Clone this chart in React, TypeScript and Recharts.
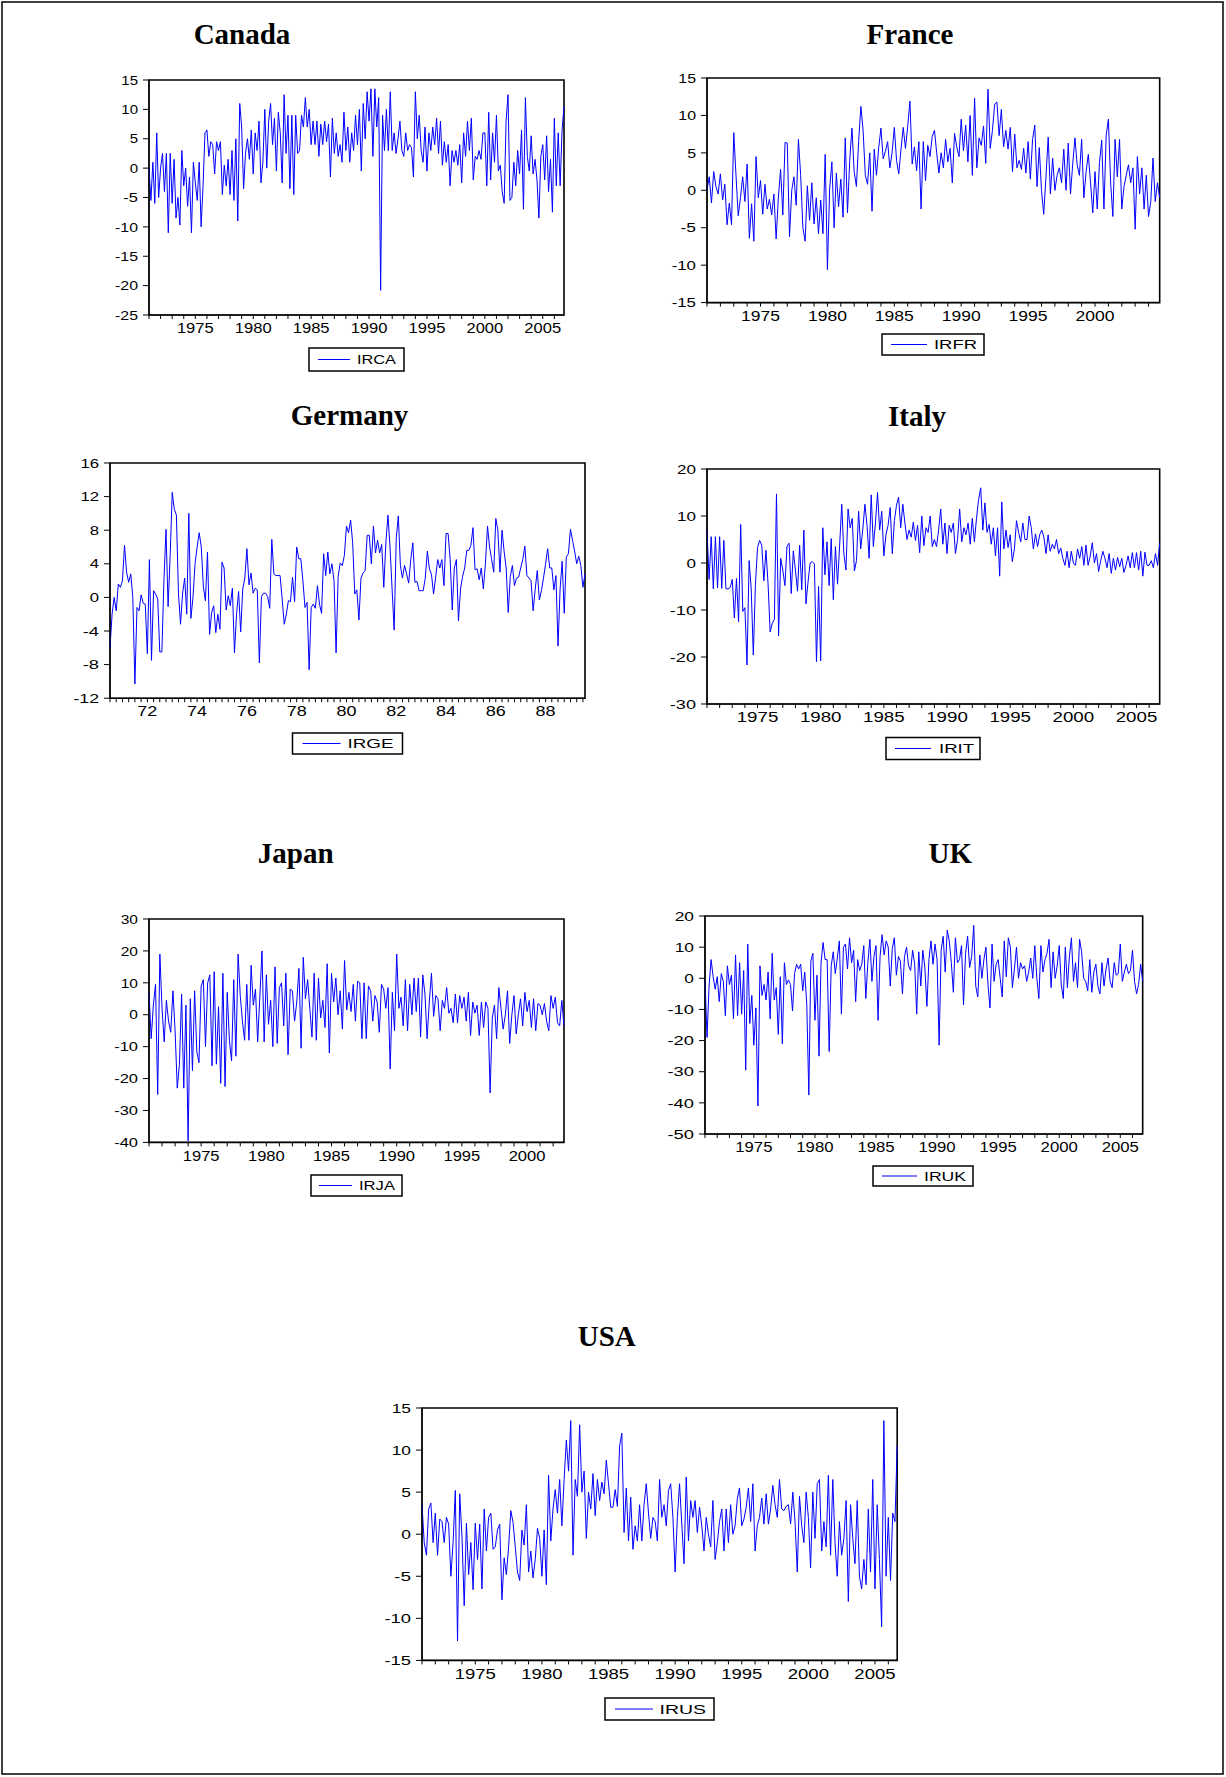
import { LineChart, Line, XAxis, YAxis, ReferenceArea } from "recharts";

// two-month observations unless noted
const STEP_2M = 1 / 6;
const STEP_1M = 1 / 12;

const IRCA = [
  0, -5.5, 1, -6, 6, -5,
  0, 2.5, -4, 2.5, -11, 2.5,
  -6, 1.5, -8.5, -5, -9.7, 3,
  -3, 0, -6.5, -1.5, -11, 1,
  -2.5, -5.5, 1, -10, -3, 6,
  6.5, 2, 4.5, 4, -1, 4.5,
  3, 4.5, -4.5, 0.5, -3, 1.5,
  -4.5, 3, -5.5, 5, -9, 11,
  7, -3.5, 2.5, 5, 1.5, 6.5,
  -1, 6, 3, 8, -2.5, 1,
  10, 0, 8, 11, 4, 8.5,
  -0.5, 9.5, 6, -2.5, 12.5, 2.5,
  9, -3.5, 9, -4.5, 9, 2.5,
  3, 9, 7, 12, 7, 10,
  4, 8, 4, 8, 2, 7.5,
  4, 8, 4.5, 7.5, -1.5, 8.5,
  2.5, 6, 2, 4, 1, 9.5,
  3, 7, 1, 6, 3, 9,
  4, 10, -0.5, 11, 5, 13,
  8, 13.5, 2, 13.5, 7, 12,
  -20.8, 9, 3, 10, 3, 13,
  3, 6, 2.5, 5, 8, 3,
  2, 6, 3, 4, 3.5, -1.5,
  13, 5, 9, 3, 1, 7,
  -0.5, 6, 3, 7, 4, 8.5,
  2.5, 8, 0.5, 4.5, 1, 4,
  -3, 3, 1, 3, 0.5, 4,
  -2.5, 6, 2, 8, 3, 8.5,
  -2, 2, 1.5, 3, 1.5, 6,
  6, -3, 9.5, -2, 6, 1,
  9, -0.5, 0.5, -4, -6, 8,
  12.5, -5.5, -5, 1, -3, 3,
  -1, 6.5, -7, 12, 2, -0.5,
  5.5, -1, 1.5, -2, -8.5, 2,
  4, -2, 5.5, -4, 1.5, -7.5,
  8.5, -3, 6, -3, 6.5, 10.5,
];

const IRFR = [
  0, 1.8, -1.7, 2.5, 0.5, -0.5,
  2.2, -1.3, 0.8, -4.6, -1.7, -4.6,
  7.7, 2, -3.4, -1, 1.8, -1.5,
  3.5, -6.4, -1.8, -6.8, 4.5, -1,
  1.3, -3.2, 0.8, -2.5, -1.2, -3.3,
  -0.5, -6.5, -1, 2.8, -3.3, 6.4,
  6.3, -6.2, 0, 1.8, -2, 6.8,
  2, -5, -6.8, 0.6, -4, 1,
  -4.5, -1, -5.8, -1.3, -5.8, 4.8,
  -10.6, 0.2, 3.8, -5, 2.3, -2.2,
  1.5, -3.6, 7, -3, 4, 8.3,
  2.5, 0.5, 6.5, 11.2, 8, 2,
  0.8, 5, -2.8, 5.5, 2, 5.7,
  8.3, 4.2, 5.2, 6.5, 3, 5,
  8.4, 4, 2.2, 5.5, 8.4, 5.6,
  8.5, 11.9, 3.5, 5.8, 2.6, 6.5,
  -2.5, 6.5, 1.3, 6, 4.5, 7.2,
  8, 5, 2.3, 5, 3, 6.8,
  3.8, 5.6, 1, 7.6, 5.8, 4.5,
  9.5, 5.3, 8.7, 3.8, 10, 2,
  12.3, 3, 7, 6, 8.6, 3.6,
  13.5, 5.6, 8, 11.5, 11.8, 7.3,
  10.8, 5.8, 8, 5.5, 8.4, 2.5,
  7.5, 3, 4, 2.8, 5.6, 2.3,
  6.5, 1.5, 6.8, 8.7, 0.5, 5.7,
  0, -3.2, 1.8, 7.1, -0.5, 4.3,
  0, 2, 3, 1, 5.5, 0,
  6.3, -0.5, 3.5, 7, 3.4, 2,
  6.8, -1, 2.5, 4.8, 1, -3,
  2.5, -2.5, 3.7, 6.7, -2.5, 7.3,
  9.5, 1, -3.5, 6.8, 1.8, 6.8,
  -2.5, 0.5, 2, 3.4, 1, 3,
  -5.2, 4.5, -0.5, 3, -2.5, 2,
  -3.5, -1.5, 4.3, -1.5, 1, -1,
];

// monthly
const IRGE = [
  -6, -2, 0, -1.6, 1.6, 1.2, 2, 6.2, 3, 1.8,
  2.8, 0, -10.3, -1.2, -1.6, 0.3, -0.7, -0.8, -6.7, 4.5,
  -7.5, 0.8, 0.4, -0.2, -6.5, -6.5, 2, 8.1, -1.1, 5,
  12.5, 10.5, 9.8, 0.5, -3.2, 0.5, 2.3, -2, 10, -2.5,
  0, 4, 6, 7.7, 6, 1.3, -0.4, 5.4, -4.4, -1.8,
  -1, -4.2, -2, -3.8, 4.2, 3.5, -1.5, 0.2, -1, 1.1,
  -6.6, -2, 0.7, -4.1, 1, 2.3, 5.8, 1.5, 2.9, 0.5,
  1.1, 0.9, -7.8, 0.1, 0.5, 0.5, 0.1, -1.3, 6.9, 2.8,
  2.6, 2.6, 2.6, -0.2, -3.2, -2, -0.4, -0.5, 2.4, -0.5,
  6, 4.6, 4.6, 2, -1.2, -0.6, -8.6, -1.2, -0.8, -1.3,
  1.4, -0.8, -1.9, 5.2, 2.6, 5.4, 2.8, 4, 2, -6.6,
  2.5, 4.1, 3.8, 5, 8.5, 7.7, 9.2, 6.5, 0.4, 0.9,
  -2.7, 2.3, 2.9, 3.2, 7.4, 7.4, 4, 8.5, 5.3, 6.8,
  5.3, 6.3, 1.2, 6.5, 9.8, 6, 1, -3.9, 7, 9.7,
  3.8, 2.3, 3.8, 2.8, 1.7, 4.5, 6.5, 1.8, 1.9, 0.8,
  0.8, 0.8, 2.3, 5.5, 3.4, 2.7, 0.4, 2.4, 4.5, 3.5,
  4.5, 1.4, 7.6, 7.6, 4.5, -1.5, 3.5, 4.5, -2.8, 1,
  2.5, 3.5, 5.6, 5.6, 6.2, 8.3, 3.3, 3.4, 2.1, 3.5,
  1, 4, 8.5, 6, 4.5, 3, 9.4, 8, 3, 8,
  5.5, 3.5, -1.8, 2.5, 3.8, 1.4, 2.3, 2.4, 3.5, 4.5,
  6.1, 2.6, 2.3, 2, -1.6, 1, 3.2, -0.3, 0.8, 2.3,
  4, 5.8, 3.5, 3.5, 0.9, 2.6, -5.8, 1, 4.3, -1.9,
  4.8, 5.2, 8.1, 6.8, 5.5, 4, 4.9, 3.8, 1.2, 2.8,
];

const IRIT = [
  7, -3.5, 5.6, -5.5, 5.6, -5.3,
  5.6, -5.4, 4.8, -5.5, -5.5, -5.2,
  -3.5, -11.7, -3.3, -12.5, 8.2, -10.3,
  -9.5, -21.7, 0.5, -5.5, -19.6, -4.5,
  3.3, 4.8, 3.8, -3.8, 2.7, -4.4,
  -14.7, -12.8, -12, 14.7, -15.5, 1,
  -1.5, -4.8, 3.6, 4.2, -6.5, 2.6,
  -1.5, -6, 3.8, -5.7, 7, -8.7,
  -4, 0, 0.3, -0.2, -21, -5,
  -20.8, 7.5, -2.5, 4.5, -4.8, 5.2,
  -7.8, 3.5, -4.5, 3.8, 12.5, 2,
  -1.5, 11.5, 7.5, 9.5, -1.7, 0.5,
  11, 3, 7.2, 12.5, 8, 1,
  14.5, 3.5, 8.5, 15, 7, 11,
  1.5, 6, 8, 11.8, 2, 9,
  12.3, 14, 7.5, 12.5, 8.5, 5,
  7, 5.5, 8.7, 4.8, 8, 2.2,
  10, 3.7, 7.5, 6.5, 10, 3.5,
  5, 3.5, 7, 11.5, 4, 8.5,
  2, 8, 6.5, 8.5, 2, 5,
  11.5, 4.5, 7.5, 6, 8.5, 4,
  9.5, 4.5, 9.5, 13.5, 16, 7,
  12.8, 6.5, 8.2, 4, 7.5, 1.5,
  7.5, -2.8, 13, 3, 7, 3.3,
  6, 0.3, 3, 9, 6.5, 4.5,
  8.5, 5, 5, 10, 7.5, 3,
  6.2, 3.5, 6, 7, 5.5, 2,
  6, 2.5, 4, 3, 5, 2,
  3.2, 1, -0.5, 2.5, -1, 2.5,
  0, -0.5, 3, 1, 3.5, -0.5,
  3.8, -0.5, 1.5, 4.3, 0, 2,
  -1.8, 0.5, 2.5, 1, -1, 2,
  -2.2, 1, -1.5, 1.2, -0.8, 1,
  -2, -0.5, 1.5, -1, 2.2, -1,
  2.2, -1.5, 2.5, -2.8, 2.3, -0.5,
  -0.5, 0.5, -1, 2, -0.5, 4.3,
];

const IRJA = [
  7, -7.5, 3, 9.5, -25, 19,
  2, -8.5, 4.5, -2, -5.5, 7.5,
  -5, -23, -15.5, 6.5, -23, 3,
  -39.5, 5, -17.5, 7.5, -11.5, -15,
  9, 11, -10, 10, 12.5, -16,
  13.5, -15.5, 2.5, -21.5, 13, -22.5,
  7, -8, -14.5, 11, -13, 19,
  6, -2, -8, 9.5, -8, 15.5,
  3, 8, -8.5, 5.5, 20, -8.5,
  12.5, -3, 4.5, -10, 15, -9,
  8.5, 10, -3.5, 13, -12.5, 8,
  7.5, -2, 4, 14.5, -10.5, 18,
  5, 11, 2, -7, 13, -8,
  11.5, -1, 4.5, -4, 16, -12,
  13, 4, 11.5, 0, 7.5, -4.5,
  17, 1.5, 7, 1, 9.5, -2,
  10.5, 10, -7.5, 10, -7.5, 9,
  7.5, -2, 6, 4, -5.5, 9.5,
  8, 2, 8.5, -17, 7, -5,
  19, 2, 5.5, -3.5, 11, -5,
  9.5, 0, 11.5, 1, 11.5, -7,
  12.5, 6.5, -7.5, 4, 13, -0.5,
  6, 5, -5, 4.5, 2, 8.5,
  0.5, 2, -2.5, 6.5, -2.5, 6,
  2, 5.5, -2, 7, -6.5, 4,
  0.5, 3, -6.5, 4, -4, 4,
  2, -24.5, -1, 3, -7.5, 8.5,
  2, -4.5, 0, 7.5, -9, 0,
  6, -6, 0, 5, -3.5, 7,
  1, 4.5, -4, 5, -5, 3.5,
  3, 0, 3.5, -2, -5, 6,
  2, 5.5, -2.5, -3.5, 4.5, -3.5,
];

const IRUK = [
  -0.5, -19, -2.5, 6, 0.5, -3.5,
  0.5, -7.5, 1.5, -1, -12, 4,
  -2, 1, -13, 7.5, -12, 5,
  -11.5, 2.5, -29.5, 11, -14.5, -5.5,
  -21.5, -9.5, -41, 4, -5.5, -2,
  -7, 2, -13, 8, -7, -3,
  -18, 0.5, -21, 5, -2, -0.5,
  -2, -10.5, 1.5, 4.5, 3, 4.5,
  -4, 2, -8.5, -37.5, 5.5, 8,
  -13.5, 1, -25, 5, 11.5, 6,
  6, -23.5, 4, 8.5, 1.5, 6.5,
  12, -11.5, 10, 11, 3, 13,
  5, 9, -7.5, 6, 2.5, 4.5,
  10.5, -6.5, 5, 12.5, -1, 7,
  10.5, -13.5, 7, 14, 7.5, 12,
  10, -2.5, 9.5, 13, 1, 7,
  5.5, -5, 7, 10, 4, 2.5,
  9, 4.5, -11.5, 8.5, -2.5, 9,
  3.5, -9, 6, 12, 4.5, 11,
  6, -21.5, 9, 13.5, 2, 15.5,
  12, 5, -4.5, 13, 5, 6,
  10.5, -8.5, 8, 13.5, 3.5, 7,
  17, -2.5, -6, 7.5, 0, 6,
  10, -2, -9.5, 11, -1, 4.5,
  6, 0, -6, 12, 0.5, 13,
  10, -3, 3, 10, 0, 5,
  3, 4, -1, 2, 6.5, 0,
  10.5, 0, -6.5, 10.5, 2, 6,
  8, 12.5, -3, 8.5, 0, 4,
  10.5, -2, -6.5, 10, -3, 7,
  13, -1, 5, -3, 12.5, 8.5,
  0, -1, -4, 6, -4.5, 2,
  4.5, -2.5, -5, 5, -2.5, 3,
  6.5, -1, -3, 5, 1, 1.5,
  11, -1, 2, 4.5, 1.5, 2.5,
  9, -1, -5, -2, 4.5, -1,
];

const IRUS = [
  3.5, -1, -2.5, 3, 3.7, -1,
  2.5, -2.5, 1.8, 1.5, -1, 2,
  1.2, -5, -1, 5.2, -12.7, 4.8,
  -0.3, -8.5, 1.3, -4.8, -1, -6.6,
  1.3, -3, 1.2, -6.5, 3, -2,
  2, 2.5, -1.8, -1.5, 0.5, 1.2,
  -7.8, -2.8, -4.8, -1.5, 2.8, 1.4,
  -1.5, -4.5, -5.5, 0.5, -1.3, 3.5,
  -4.5, -2, -5.2, -3, 0.7, -0.5,
  -5, 0.5, -6, 7, -0.8, 3,
  5.3, 2.5, 6.5, 1, 6.5, 11.2,
  7.5, 13.5, -2.5, 6.5, 4.5, 13,
  5, 7.5, -0.5, 5, 3, 7.2,
  2.2, 6.5, 4, 6.2, 4.8, 8.8,
  6, 3.2, 3.2, 5.3, 3.3, 10.5,
  12, 0.2, 5.5, -0.8, 4.4, -1.8,
  1, -0.8, 3.5, -0.8, 3.5, 6,
  2.5, -0.5, 2, 1.5, -0.8, 6.5,
  2, 3.5, 1, 5.2, 6, 2,
  -4.5, 2, 6, 1.2, -3.5, 6.8,
  -0.8, 4, 2, 4, 0.2, 3.2,
  1, -2, 2, 0, -1.5, 4,
  -3, -1, 1.5, 3, -2, 3,
  -1, 3.5, 0, 1, 4.2, 5.5,
  1, 1.8, 3.2, 5.5, 1.5, 6,
  -2, 1, 2, 4.3, 1.2, 4.8,
  1.2, 3, 5.8, 3.5, 2, 6.5,
  3, 2.8, 3.3, 3.5, 1.2, 5,
  1.5, -4.5, 4.5, 1, -1, 5,
  2, -4, 5, -0.5, 6, 6.5,
  -2, 1.5, -1.5, 7, -2.5, 6.5,
  -1, -5, 1.5, -2.5, -0.5, 4,
  -8, 3.5, -0.5, -3.5, 4, -5,
  -6.5, -3, -6, 3, -4.5, 6.5,
  -6.5, 3.5, -3, -11, 13.5, -5,
  2, -5.5, 2.5, 1.5, 10.5,
];

const Y_TICKS_CA = [-25, -20, -15, -10, -5, 0, 5, 10, 15];
const Y_TICKS_FR = [-15, -10, -5, 0, 5, 10, 15];
const Y_TICKS_GE = [-12, -8, -4, 0, 4, 8, 12, 16];
const Y_TICKS_IT = [-30, -20, -10, 0, 10, 20];
const Y_TICKS_JA = [-40, -30, -20, -10, 0, 10, 20, 30];
const Y_TICKS_UK = [-50, -40, -30, -20, -10, 0, 10, 20];
const Y_TICKS_US = [-15, -10, -5, 0, 5, 10, 15];

const YEAR_LABELS = [1975, 1980, 1985, 1990, 1995, 2000, 2005];
const GE_LABELS = [72, 74, 76, 78, 80, 82, 84, 86, 88];

const BLUE = "#0000ff";
const SANS = "'Liberation Sans', Arial, sans-serif";
const SERIF = "'Liberation Serif', 'Times New Roman', serif";

const range = (a: number, b: number, s: number) => {
  const out: number[] = [];
  for (let v = a; v <= b + 1e-9; v += s) out.push(Math.round(v * 1000) / 1000);
  return out;
};

const toRows = (values: number[], start: number, step: number) =>
  values.map((v, i) => ({ t: start + i * step, v }));

const yearFmt = (t: number) => (YEAR_LABELS.includes(t) ? String(t) : "");
const geFmt = (t: number) => {
  const y = t - 0.5;
  if (Math.abs(y - Math.round(y)) > 1e-6) return "";
  const yy = Math.round(y) - 1900;
  return GE_LABELS.includes(yy) ? String(yy) : "";
};

type Panel = {
  title: string;
  name: string;
  values: number[];
  start: number;
  step: number;
  xDomain: [number, number];
  xTicks: number[];
  fmt: (t: number) => string;
  yTicks: number[];
  box: { l: number; t: number; r: number; b: number };
  titleX: number;
  titleY: number;
  xcw: number;
  ycw: number;
  legend: { l: number; t: number; w: number; h: number; lx1: number; lx2: number; tx: number; tl: number };
};

const panels: Panel[] = [
  {
    title: "Canada", name: "IRCA", values: IRCA, start: 1971, step: STEP_2M,
    xDomain: [1971, 2006.833], xTicks: range(1971, 2006, 1), fmt: yearFmt, yTicks: Y_TICKS_CA,
    box: { l: 149.3, t: 80, r: 564.3, b: 315 }, titleX: 242, titleY: 44.3, xcw: 9.2, ycw: 8.35,
    legend: { l: 309, t: 348, w: 95, h: 23, lx1: 9, lx2: 41, tx: 48, tl: 39 },
  },
  {
    title: "France", name: "IRFR", values: IRFR, start: 1971, step: STEP_2M,
    xDomain: [1971, 2004.833], xTicks: range(1971, 2004, 1), fmt: yearFmt, yTicks: Y_TICKS_FR,
    box: { l: 707.3, t: 77.7, r: 1160, b: 302.3 }, titleX: 910, titleY: 44.3, xcw: 9.75, ycw: 8.85,
    legend: { l: 882, t: 334, w: 102, h: 21, lx1: 9, lx2: 45, tx: 52, tl: 43 },
  },
  {
    title: "Germany", name: "IRGE", values: IRGE, start: 1971, step: STEP_1M,
    xDomain: [1971, 1990.083], xTicks: range(1971, 1990, 0.25), fmt: geFmt, yTicks: Y_TICKS_GE,
    box: { l: 110, t: 463.3, r: 585, b: 698.5 }, titleX: 349.5, titleY: 425, xcw: 10, ycw: 9.3,
    legend: { l: 292.5, t: 733, w: 110, h: 21, lx1: 10, lx2: 48, tx: 55, tl: 46 },
  },
  {
    title: "Italy", name: "IRIT", values: IRIT, start: 1971, step: STEP_2M,
    xDomain: [1971, 2006.833], xTicks: range(1971, 2006, 1), fmt: yearFmt, yTicks: Y_TICKS_IT,
    box: { l: 707.3, t: 469, r: 1160, b: 704 }, titleX: 917, titleY: 425.7, xcw: 10.4, ycw: 9.5,
    legend: { l: 886, t: 737.5, w: 94, h: 22, lx1: 9, lx2: 45, tx: 53, tl: 35 },
  },
  {
    title: "Japan", name: "IRJA", values: IRJA, start: 1971, step: STEP_2M,
    xDomain: [1971, 2002.833], xTicks: range(1971, 2002, 1), fmt: yearFmt, yTicks: Y_TICKS_JA,
    box: { l: 149.3, t: 919.3, r: 564.3, b: 1142.7 }, titleX: 295.7, titleY: 863.3, xcw: 9.2, ycw: 8.65,
    legend: { l: 311, t: 1175, w: 91, h: 21, lx1: 8, lx2: 41, tx: 48, tl: 36 },
  },
  {
    title: "UK", name: "IRUK", values: IRUK, start: 1971, step: STEP_2M,
    xDomain: [1971, 2006.833], xTicks: range(1971, 2006, 1), fmt: yearFmt, yTicks: Y_TICKS_UK,
    box: { l: 705, t: 916, r: 1142.7, b: 1134 }, titleX: 950.3, titleY: 863.3, xcw: 9.3, ycw: 9.65,
    legend: { l: 873, t: 1166, w: 100, h: 20, lx1: 9, lx2: 44, tx: 51, tl: 42 },
  },
  {
    title: "USA", name: "IRUS", values: IRUS, start: 1971, step: STEP_2M,
    xDomain: [1971, 2006.667], xTicks: range(1971, 2006, 1), fmt: yearFmt, yTicks: Y_TICKS_US,
    box: { l: 422.3, t: 1408.3, r: 897.5, b: 1660.7 }, titleX: 606.8, titleY: 1346, xcw: 10.3, ycw: 9.65,
    legend: { l: 605, t: 1698, w: 109, h: 22, lx1: 10, lx2: 48, tx: 54.5, tl: 46.5 },
  },
];

const Y_AXIS_W = 56;
const M_TOP = 12;
const M_RIGHT = 12;
const X_AXIS_H = 30;

const XTick = (props: any) => {
  const { x, y, payload, fmt, cw } = props;
  const label = fmt(payload.value);
  if (!label) return <g />;
  return (
    <text
      x={x}
      y={y + 14.3}
      textAnchor="middle"
      fontSize={14}
      fontFamily={SANS}
      fill="#000"
      textLength={label.length * cw}
      lengthAdjust="spacingAndGlyphs"
    >
      {label}
    </text>
  );
};

const YTick = (props: any) => {
  const { x, y, payload, cw } = props;
  const label = String(payload.value);
  const minus = label.startsWith("-") ? 1 : 0;
  const len = (label.length - minus) * cw + minus * cw * 0.75;
  return (
    <text
      x={x - 5}
      y={y + 4.7}
      textAnchor="end"
      fontSize={13}
      fontFamily={SANS}
      fill="#000"
      textLength={len}
      lengthAdjust="spacingAndGlyphs"
    >
      {label}
    </text>
  );
};

const SeriesPanel = ({ p }: { p: Panel }) => {
  const plotW = p.box.r - p.box.l;
  const plotH = p.box.b - p.box.t;
  const data = toRows(p.values, p.start, p.step);
  const yMin = p.yTicks[0];
  const yMax = p.yTicks[p.yTicks.length - 1];

  return (
    <div style={{ position: "absolute", left: p.box.l - Y_AXIS_W, top: p.box.t - M_TOP }}>
      <LineChart
        width={Y_AXIS_W + plotW + M_RIGHT}
        height={M_TOP + plotH + X_AXIS_H}
        data={data}
        margin={{ top: M_TOP, right: M_RIGHT, bottom: 0, left: 0 }}
      >
        <XAxis
          dataKey="t"
          type="number"
          scale="linear"
          domain={p.xDomain}
          ticks={p.xTicks}
          interval={0}
          height={X_AXIS_H}
          tickSize={4}
          tickMargin={0}
          axisLine={{ stroke: "#000", strokeWidth: 1 }}
          tickLine={{ stroke: "#000", strokeWidth: 1 }}
          tick={(tp: any) => <XTick {...tp} fmt={p.fmt} cw={p.xcw} />}
        />
        <YAxis
          type="number"
          domain={[yMin, yMax]}
          ticks={p.yTicks}
          interval={0}
          width={Y_AXIS_W}
          tickSize={6}
          tickMargin={0}
          axisLine={{ stroke: "#000", strokeWidth: 1 }}
          tickLine={{ stroke: "#000", strokeWidth: 1 }}
          tick={(tp: any) => <YTick {...tp} cw={p.ycw} />}
        />
        <ReferenceArea
          x1={p.xDomain[0]}
          x2={p.xDomain[1]}
          y1={yMin}
          y2={yMax}
          fill="none"
          fillOpacity={0}
          stroke="#000"
          strokeWidth={1.6}
          ifOverflow="visible"
        />
        <Line
          type="linear"
          dataKey="v"
          stroke={BLUE}
          strokeWidth={1}
          dot={false}
          activeDot={false}
          isAnimationActive={false}
        />
      </LineChart>
    </div>
  );
};

const App = () => {
  return (
    <div
      style={{
        position: "absolute",
        left: 0,
        top: 0,
        width: 1226,
        height: 1777,
        background: "#fff",
        overflow: "hidden",
      }}
    >
      <svg width={1226} height={1777} style={{ position: "absolute", left: 0, top: 0 }}>
        <rect x={2} y={2} width={1221} height={1772} fill="none" stroke="#000" strokeWidth={1.5} />
        {panels.map((p) => (
          <g key={p.name}>
            <text
              x={p.titleX}
              y={p.titleY}
              textAnchor="middle"
              fontFamily={SERIF}
              fontWeight="bold"
              fontSize={29}
              fill="#000"
            >
              {p.title}
            </text>
            <rect
              x={p.legend.l}
              y={p.legend.t}
              width={p.legend.w}
              height={p.legend.h}
              fill="#fff"
              stroke="#000"
              strokeWidth={1.5}
            />
            <line
              x1={p.legend.l + p.legend.lx1}
              x2={p.legend.l + p.legend.lx2}
              y1={p.legend.t + p.legend.h / 2}
              y2={p.legend.t + p.legend.h / 2}
              stroke={BLUE}
              strokeWidth={1}
            />
            <text
              x={p.legend.l + p.legend.tx}
              y={p.legend.t + p.legend.h / 2 + 4.7}
              fontFamily={SANS}
              fontSize={13}
              fill="#000"
              textLength={p.legend.tl}
              lengthAdjust="spacingAndGlyphs"
            >
              {p.name}
            </text>
          </g>
        ))}
      </svg>
      {panels.map((p) => (
        <SeriesPanel key={p.name} p={p} />
      ))}
    </div>
  );
};

export default App;
